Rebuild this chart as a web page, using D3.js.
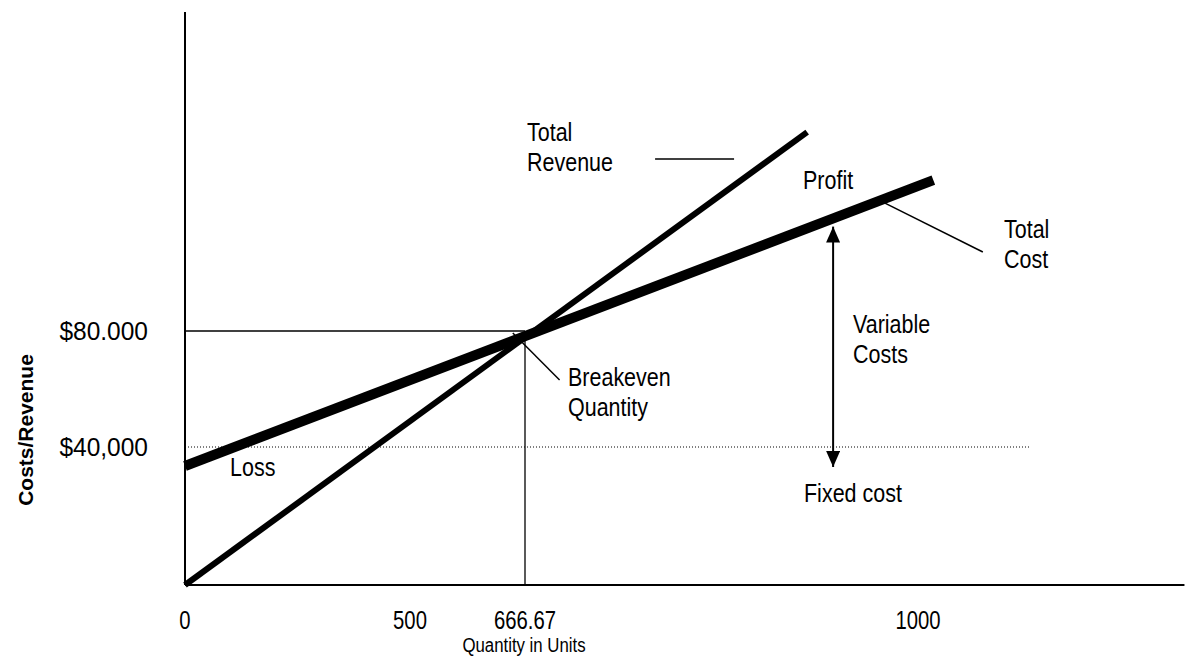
<!DOCTYPE html>
<html>
<head>
<meta charset="utf-8">
<script src="https://cdn.jsdelivr.net/npm/d3@7"></script>
<style>
  body { margin: 0; background: #fff; }
  text { font-family: "Liberation Sans", Arial, sans-serif; fill: #000; }
</style>
</head>
<body>
<div id="canvas"></div>
<script>
// break-even diagram values (units, dollars)
const xTicks = [0, 500, 666.67, 1000];
const xTickLabels = ["0", "500", "666.67", "1000"];
const yTicks = [40000, 80000];
const yTickLabels = ["$40,000", "$80.000"];
const breakevenQ = 666.67;
const breakevenY = 80000;
const fixedCost = 40000;
const revenueLine = [[0, 0], [906, 148600]];
const totalCostLine = [[0, 34500], [1013, 132000]];
const variableArrow = [[928, 116000], [928, 34200]];

const width = 1199;
const height = 660;

const svg = d3.select("#canvas").append("svg")
    .attr("width", width)
    .attr("height", height);

// the diagram is hand drawn, so the scales are piecewise
const x = d3.scaleLinear().domain([0, 500, 666.67, 1000]).range([185, 410, 525, 918]);
const y = d3.scaleLinear().domain([0, 40000, 80000]).range([585, 447, 331]);

const line = d3.line().x(d => x(d[0])).y(d => y(d[1]));

svg.append("defs").append("marker")
    .attr("id", "arrow")
    .attr("viewBox", "0 0 16 14")
    .attr("refX", 16).attr("refY", 7)
    .attr("markerWidth", 16).attr("markerHeight", 14)
    .attr("markerUnits", "userSpaceOnUse")
    .attr("orient", "auto-start-reverse")
  .append("path")
    .attr("d", "M0,0L16,7L0,14z")
    .attr("fill", "#000");

// narrow-ish label helper: squeeze the text horizontally
function label(px, py, lines, size, sx, anchor, gap) {
    const t = svg.append("text")
        .attr("transform", `translate(${px},${py}) scale(${sx},1)`)
        .attr("text-anchor", anchor || "start")
        .style("font-size", size + "px");
    lines.forEach((s, i) => t.append("tspan").attr("x", 0).attr("dy", i ? (gap || 30) : 0).text(s));
    return t;
}

// axes
svg.append("line")
    .attr("x1", x(0)).attr("x2", x(0))
    .attr("y1", y(190000)).attr("y2", y(0))
    .attr("stroke", "#000").attr("stroke-width", 2);
svg.append("line")
    .attr("x1", x(0)).attr("x2", x(1226))
    .attr("y1", y(0)).attr("y2", y(0))
    .attr("stroke", "#000").attr("stroke-width", 2);

// fixed cost dotted line
svg.append("line")
    .attr("x1", x(0)).attr("x2", x(1095))
    .attr("y1", y(fixedCost)).attr("y2", y(fixedCost))
    .attr("stroke", "#000").attr("stroke-width", 1)
    .attr("stroke-dasharray", "1,2");

// breakeven guides
svg.append("line")
    .attr("x1", x(0)).attr("x2", x(breakevenQ))
    .attr("y1", y(breakevenY)).attr("y2", y(breakevenY))
    .attr("stroke", "#000").attr("stroke-width", 1.3);
svg.append("line")
    .attr("x1", x(breakevenQ)).attr("x2", x(breakevenQ))
    .attr("y1", y(breakevenY)).attr("y2", y(0))
    .attr("stroke", "#000").attr("stroke-width", 1.3);

// revenue and cost lines
svg.append("path").datum(revenueLine)
    .attr("d", line).attr("fill", "none")
    .attr("stroke", "#000").attr("stroke-width", 6);
svg.append("path").datum(totalCostLine)
    .attr("d", line).attr("fill", "none")
    .attr("stroke", "#000").attr("stroke-width", 10);

// leader lines
const leaders = [
    [[649, 79300], [696, 63100]],
    [[777, 139300], [844, 139300]],
    [[972, 124100], [1055, 107240]]
];
svg.selectAll(".leader").data(leaders).enter().append("path")
    .attr("class", "leader")
    .attr("d", line).attr("fill", "none")
    .attr("stroke", "#000").attr("stroke-width", 1.5);

// variable costs arrow
svg.append("path").datum(variableArrow)
    .attr("d", line).attr("fill", "none")
    .attr("stroke", "#000").attr("stroke-width", 2)
    .attr("marker-start", "url(#arrow)")
    .attr("marker-end", "url(#arrow)");

// tick labels
xTicks.forEach((d, i) => label(x(d), 629, [xTickLabels[i]], 26, 0.78, "middle"));
yTicks.forEach((d, i) => label(148, y(d) + 9, [yTickLabels[i]], 25, 0.98, "end"));

label(524, 652, ["Quantity in Units"], 21, 0.8, "middle");
svg.append("text")
    .attr("transform", "translate(33,430) rotate(-90)")
    .attr("text-anchor", "middle")
    .style("font-size", "21px").style("font-weight", "bold")
    .text("Costs/Revenue");

// annotations
label(527, 141, ["Total", "Revenue"], 25, 0.86);
label(803, 189, ["Profit"], 25, 0.86);
label(1004, 238, ["Total", "Cost"], 25, 0.86);
label(853, 333, ["Variable", "Costs"], 25, 0.86);
label(568, 386, ["Breakeven", "Quantity"], 25, 0.86);
label(230, 476, ["Loss"], 25, 0.86);
label(804, 502, ["Fixed cost"], 25, 0.86);
</script>
</body>
</html>
